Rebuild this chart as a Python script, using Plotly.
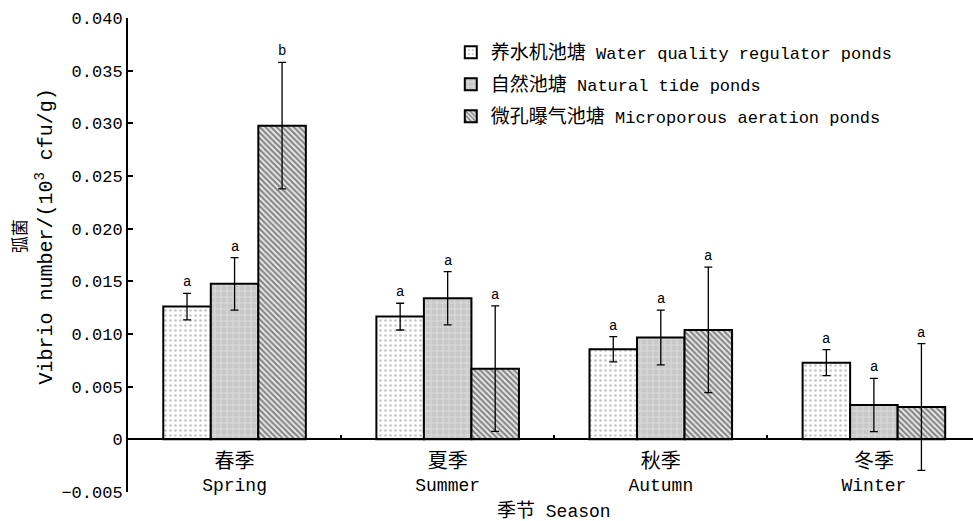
import plotly.graph_objects as go

seasons_cn = ["春季", "夏季", "秋季", "冬季"]
seasons_en = ["Spring", "Summer", "Autumn", "Winter"]

series_cn = ["养水机池塘", "自然池塘", "微孔曝气池塘"]
series_en = ["Water quality regulator ponds", "Natural tide ponds", "Microporous aeration ponds"]

regulator = [0.0126, 0.01165, 0.00855, 0.00728]
regulator_err = [0.00125, 0.00127, 0.0012, 0.00124]
natural = [0.01476, 0.0134, 0.00966, 0.00326]
natural_err = [0.0025, 0.00253, 0.0026, 0.00253]
aeration = [0.02978, 0.00671, 0.01039, 0.00307]
aeration_err = [0.006, 0.00596, 0.00595, 0.00602]

letters = [
    ["a", "a", "a", "a"],
    ["a", "a", "a", "a"],
    ["b", "a", "a", "a"],
]

y_ticks = [-0.005, 0, 0.005, 0.010, 0.015, 0.020, 0.025, 0.030, 0.035, 0.040]
y_ticktext = ["−0.005", "0", "0.005", "0.010", "0.015", "0.020", "0.025", "0.030", "0.035", "0.040"]

LAT = "Liberation Mono"
CJK = "Noto Sans CJK SC"


def mix(cn, en, cn_size):
    return f'<span style="font-family:{CJK};font-size:{cn_size}px">{cn}</span> {en}'


values = [regulator, natural, aeration]
errors = [regulator_err, natural_err, aeration_err]
patterns = [
    dict(shape=".", bgcolor="#ffffff", fgcolor="#8a8a8a", size=5, solidity=0.22),
    dict(shape="+", bgcolor="#c8c8c8", fgcolor="#f0f0f0", size=6, solidity=0.3),
    dict(shape="\\", bgcolor="#f0f0f0", fgcolor="#1e1e1e", size=4, solidity=0.55),
]

fig = go.Figure()
for k in range(3):
    fig.add_trace(go.Bar(
        x=seasons_cn,
        y=values[k],
        name=mix(series_cn[k], series_en[k], 19),
        legendgroup=f"g{k}",
        marker=dict(color="#ffffff", line=dict(color="black", width=2), pattern=patterns[k]),
        error_y=dict(type="data", array=errors[k], visible=True, color="black", thickness=1.3, width=4),
    ))

bargap = 0.331
bw = (1 - bargap) / 3
for k in range(3):
    for i in range(4):
        fig.add_annotation(
            x=i + (k - 1) * bw, y=values[k][i] + errors[k][i],
            xref="x", yref="y", text=letters[k][i], showarrow=False,
            yanchor="bottom", yshift=1,
            font=dict(family=LAT, size=14, color="black"),
        )

# axis titles
fig.add_annotation(
    x=1.5, y=0, xref="x", yref="paper", yanchor="middle", yshift=-16,
    text=mix("季节", "Season", 19), showarrow=False,
    font=dict(family=LAT, size=18, color="black"),
)
fig.add_annotation(
    x=-0.113, y=0.0192, xref="paper", yref="y", xanchor="center", yanchor="middle",
    textangle=-90, showarrow=False,
    text=f'<span style="font-family:{CJK};font-size:17px">弧菌</span><br>Vibrio number/(10<sup>3</sup> cfu/g)',
    font=dict(family=LAT, size=20, color="black"),
)

fig.update_layout(
    width=973, height=521,
    margin=dict(l=128, r=0, t=18, b=29, autoexpand=False),
    paper_bgcolor="white", plot_bgcolor="white",
    barmode="group", bargap=bargap, bargroupgap=0,
    showlegend=True,
    legend=dict(
        x=0.382, y=0.965, xanchor="left", yanchor="top",
        font=dict(family=LAT, size=17, color="black"),
        bgcolor="rgba(0,0,0,0)", traceorder="grouped", tracegroupgap=7,
        itemwidth=30,
    ),
    font=dict(family=LAT, color="black"),
)

fig.update_xaxes(
    type="category", range=[-0.5, 3.465],
    anchor="free", position=(0 - y_ticks[0]) / (y_ticks[-1] - y_ticks[0]),
    showline=True, linecolor="black", linewidth=2,
    ticks="inside", ticklen=3, tickwidth=1.5, tickcolor="black", tickson="boundaries",
    tickmode="array", tickvals=seasons_cn,
    ticktext=[f'<span style="font-family:{CJK};font-size:20px">{c}</span><br>{e}' for c, e in zip(seasons_cn, seasons_en)],
    tickfont=dict(family=LAT, size=18, color="black"),
    ticklabelstandoff=6,
    showgrid=False, zeroline=False,
)
fig.update_yaxes(
    range=[y_ticks[0], y_ticks[-1]],
    showline=True, linecolor="black", linewidth=2,
    ticks="inside", ticklen=5, tickwidth=2, tickcolor="black",
    tickmode="array", tickvals=y_ticks, ticktext=y_ticktext,
    tickfont=dict(family=LAT, size=17, color="black"),
    showgrid=False, zeroline=False,
)

fig.write_html(
    "out.html",
    config={"displayModeBar": False},
    post_script="document.body.style.margin='0';document.body.style.overflow='hidden';",
)
